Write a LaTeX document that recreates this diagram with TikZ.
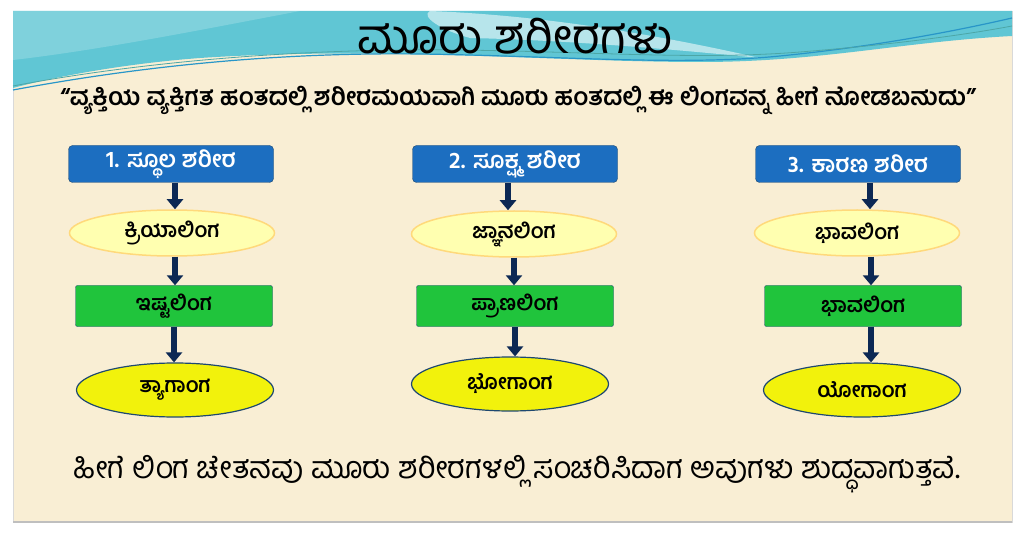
\documentclass[tikz,border=0pt]{standalone}
\usepackage{fontspec}
\newfontfamily\kn[Script=Kannada]{Hind Mysuru}
\usetikzlibrary{shapes.geometric,arrows.meta}
\definecolor{paper}{RGB}{249,238,212}
\definecolor{sea}{RGB}{96,198,212}
\definecolor{seadeep}{RGB}{40,150,200}
\definecolor{boxblue}{RGB}{28,110,192}
\definecolor{boxgreen}{RGB}{32,196,60}
\definecolor{lemon}{RGB}{242,242,12}
\definecolor{pale}{RGB}{255,255,176}
\definecolor{navy}{RGB}{12,40,84}
\definecolor{rim}{RGB}{30,72,112}
\tikzset{
  sharira/.style={draw=rim, fill=boxblue, rounded corners=4pt, minimum width=205pt,
    minimum height=37pt, text=white, font=\kn\bfseries\fontsize{23}{23}\selectfont},
  linga/.style={ellipse, fill=pale, draw=pale!70!orange, line width=1.5pt,
    minimum width=205pt, minimum height=46pt, font=\kn\bfseries\fontsize{21}{21}\selectfont},
  sthana/.style={draw=rim, fill=boxgreen, rounded corners=2pt, minimum width=197pt,
    minimum height=41pt, font=\kn\bfseries\fontsize{21}{21}\selectfont},
  anga/.style={ellipse, draw=rim, line width=1.2pt, fill=lemon, minimum width=197pt,
    minimum height=54pt, font=\kn\bfseries\fontsize{21}{21}\selectfont},
  down/.style={draw=navy, line width=5.5pt, -{Triangle[width=16pt,length=10pt]}}
}
\begin{document}
\begin{tikzpicture}[x=1pt,y=-1pt]
  %%%%% PAGE %%%%%
  \useasboundingbox (0,0) rectangle (1024,534);
  \fill[white] (0,0) rectangle (1024,534);
  \draw[fill=paper, draw=black!15] (13,11) rectangle (1012,522);
  \draw[black!25, line width=2pt] (13,522) -- (1012,522);

  %%%%% BANNER %%%%%
  \fill[sea] (13,11) -- (1012,11) -- (1012,36)
    .. controls (900,42) and (820,62) .. (700,62)
    .. controls (560,62) and (380,46) .. (200,58)
    .. controls (120,64) and (50,78) .. (13,88) -- cycle;
  \fill[white, opacity=0.55] (430,11) .. controls (560,16) and (680,40) .. (760,58)
    .. controls (660,48) and (560,40) .. (470,38) .. controls (440,30) and (420,16) .. (430,11) -- cycle;
  \fill[white, opacity=0.2] (13,11) -- (300,11) .. controls (200,30) and (100,50) .. (13,60) -- cycle;
  \draw[seadeep, line width=1.2pt] (13,90) .. controls (120,70) and (260,52) .. (420,54)
    .. controls (560,56) and (680,66) .. (780,56) .. controls (880,46) and (960,30) .. (1012,18);
  \draw[teal!70, line width=0.8pt] (13,86) .. controls (140,62) and (300,48) .. (460,50)
    .. controls (600,52) and (700,60) .. (800,52) .. controls (900,44) and (970,34) .. (1012,26);

  %%%%% TEXT %%%%%
  \node (title) at (515,36) {\kn\fontsize{48}{48}\selectfont ಮೂರು ಶರೀರಗಳು};
  \node (intro) at (518,100) {\kn\bfseries\fontsize{24.5}{24.5}\selectfont “ವ್ಯಕ್ತಿಯ ವ್ಯಕ್ತಿಗತ ಹಂತದಲ್ಲಿ ಶರೀರಮಯವಾಗಿ ಮೂರು ಹಂತದಲ್ಲಿ ಈ ಲಿಂಗವನ್ನ ಹೀಗೆ ನೋಡಬಹುದು”};
  \node (outro) at (517,474) {\kn\fontsize{30.5}{30.5}\selectfont ಹೀಗೆ ಲಿಂಗ ಚೇತನವು ಮೂರು ಶರೀರಗಳಲ್ಲಿ ಸಂಚರಿಸಿದಾಗ ಅವುಗಳು ಶುದ್ಧವಾಗುತ್ತವೆ.};

  %%%%% COLUMN 1 %%%%%
  \node[sharira] (sthula) at (171,164) {1. ಸ್ಥೂಲ ಶರೀರ};
  \node[linga] (kriya) at (172,233) {ಕ್ರಿಯಾಲಿಂಗ};
  \node[sthana] (ishta) at (174,306) {ಇಷ್ಟಲಿಂಗ};
  \node[anga] (tyaga) at (175,390) {ತ್ಯಾಗಾಂಗ};

  %%%%% COLUMN 2 %%%%%
  \node[sharira] (sukshma) at (515,164) {2. ಸೂಕ್ಷ್ಮ ಶರೀರ};
  \node[linga] (jnana) at (514,234) {ಜ್ಞಾನಲಿಂಗ};
  \node[sthana] (prana) at (515,306) {ಪ್ರಾಣಲಿಂಗ};
  \node[anga] (bhoga) at (510,384) {ಭೋಗಾಂಗ};

  %%%%% COLUMN 3 %%%%%
  \node[sharira] (karana) at (858,164) {3. ಕಾರಣ ಶರೀರ};
  \node[linga] (bhava) at (857,233) {ಭಾವಲಿಂಗ};
  \node[sthana] (bhavab) at (863,306) {ಭಾವಲಿಂಗ};
  \node[anga] (yoga) at (862,390) {ಯೋಗಾಂಗ};

  %%%%% ARROWS %%%%%
  \draw[down] ([xshift=4pt]sthula.south) -- ([xshift=4pt]sthula.south |- kriya.north);
  \draw[down] ([xshift=3pt]kriya.south) -- ([xshift=3pt]kriya.south |- ishta.north);
  \draw[down] (ishta.south) -- (ishta.south |- tyaga.north);
  \draw[down] ([xshift=-7pt]sukshma.south) -- ([xshift=-7pt]sukshma.south |- jnana.north);
  \draw[down] (jnana.south) -- (jnana.south |- prana.north);
  \draw[down] (prana.south) -- (prana.south |- bhoga.north);
  \draw[down] ([xshift=12pt]karana.south) -- ([xshift=12pt]karana.south |- bhava.north);
  \draw[down] ([xshift=14pt]bhava.south) -- ([xshift=14pt]bhava.south |- bhavab.north);
  \draw[down] ([xshift=8pt]bhavab.south) -- ([xshift=8pt]bhavab.south |- yoga.north);
\end{tikzpicture}
\end{document}
